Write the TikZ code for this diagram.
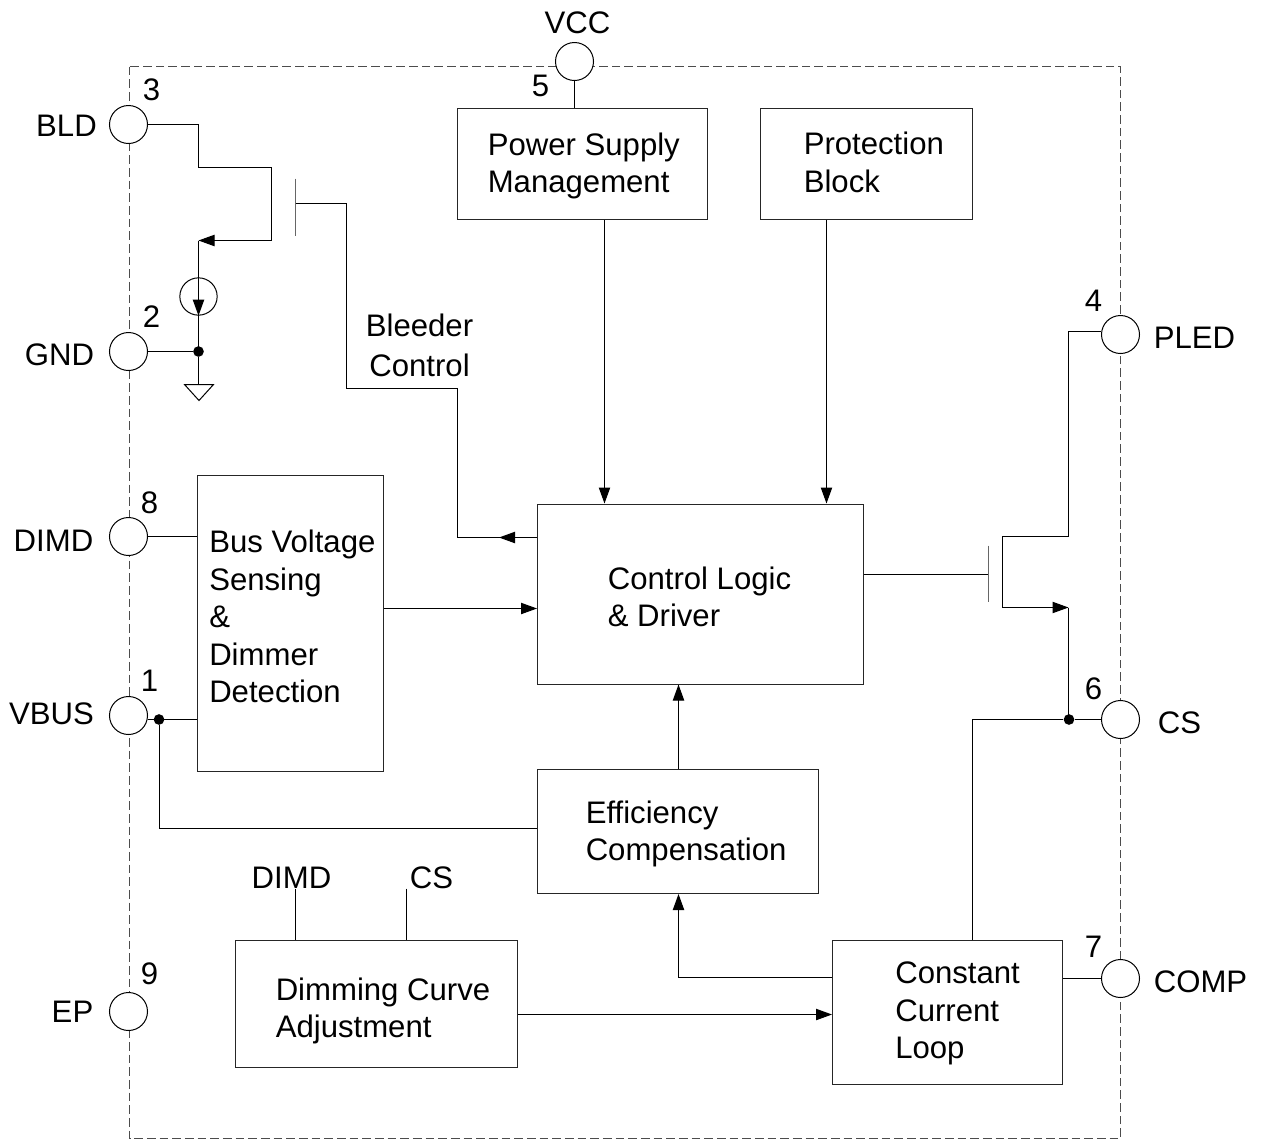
\documentclass[tikz,border=0pt]{standalone}
\usepackage{fontspec}
\setmainfont{Liberation Sans}
\usetikzlibrary{arrows.meta}
\tikzset{
  blockbox/.style={draw=black!85,line width=0.75pt,minimum width=#1,inner sep=0pt,anchor=north west},
  pin/.style={circle,draw=black,fill=white,line width=0.75pt,minimum size=28.5pt,inner sep=0pt},
  txt/.style={inner sep=0pt,align=left,anchor=west,font=\fontsize{23.35}{28.1}\selectfont},
  ctxt/.style={inner sep=0pt,align=center,anchor=center,font=\fontsize{23.35}{28.1}\selectfont},
  wire/.style={draw=black,line width=0.75pt},
  arr/.style={wire,-{Triangle[length=12pt,width=8.5pt]}},
  dot/.style={circle,fill=black,inner sep=0pt,minimum size=8pt},
}
\begin{document}
\begin{tikzpicture}[x=0.75pt,y=-0.75pt]
\useasboundingbox (0.5,0.5) rectangle (1261.5,1140.5);
% package outline
\draw[draw=black!70,line width=0.8pt,dash pattern=on 6.5pt off 3pt] (130,67) rectangle (1121,1139);
% blocks
\node[blockbox=187.5pt,minimum height=83.25pt] (psm) at (457.5,108.5) {};
\node[blockbox=159pt,minimum height=83.25pt] (prot) at (760.5,108.5) {};
\node[blockbox=139.5pt,minimum height=222pt] (bus) at (197.8,475) {};
\node[blockbox=244.5pt,minimum height=135pt] (ctrl) at (537.5,504) {};
\node[blockbox=210.75pt,minimum height=93pt] (eff) at (537.5,769.5) {};
\node[blockbox=211.5pt,minimum height=95.25pt] (dimc) at (235,940.5) {};
\node[blockbox=172.5pt,minimum height=108pt] (ccl) at (832.5,940.5) {};
% pins
\node[pin] (bld) at (129,125) {};
\node[pin] (gnd) at (129,352) {};
\node[pin] (dimd) at (129,537) {};
\node[pin] (vbus) at (129,716) {};
\node[pin] (ep) at (129,1012) {};
\node[pin] (vcc) at (575,62) {};
\node[pin] (pled) at (1121,335) {};
\node[pin] (cs) at (1121,720) {};
\node[pin] (comp) at (1121,979) {};
% block text
\node[txt] (t1) at (488,166.5) {Power Supply\\Management};
\node[txt] (t2) at (804,163) {Protection\\Block};
\node[txt] (t3) at (209.5,617) {Bus Voltage\\Sensing\\\&\\Dimmer\\Detection};
\node[txt] (t4) at (608,597.5) {Control Logic\\\& Driver};
\node[txt] (t5) at (586,834.5) {Efficiency\\Compensation};
\node[txt] (t6) at (276,1011.5) {Dimming Curve\\Adjustment};
\node[txt] (t7) at (895.5,1014) {Constant\\Current\\Loop};
\node[ctxt] (t8) at (420,345.5) {Bleeder\\[2pt]Control};
% pin labels
\node[ctxt] (l1) at (67,126) {BLD};
\node[ctxt] (l2) at (60,355) {GND};
\node[ctxt] (l3) at (54,541) {DIMD};
\node[ctxt] (l4) at (52,714) {VBUS};
\node[ctxt] (l5) at (73,1012.5) {EP};
\node[ctxt] (l6) at (578,23) {VCC};
\node[ctxt] (l7) at (1195,338) {PLED};
\node[ctxt] (l8) at (1180,723) {CS};
\node[ctxt] (l9) at (1201,982) {COMP};
\node[ctxt] (l10) at (292,878) {DIMD};
\node[ctxt] (l11) at (432,878) {CS};
% pin numbers
\node[ctxt] (n3) at (152,90) {3};
\node[ctxt] (n2) at (152,317) {2};
\node[ctxt] (n8) at (150,503) {8};
\node[ctxt] (n1) at (150,681) {1};
\node[ctxt] (n9) at (150,974) {9};
\node[ctxt] (n5) at (541,86) {5};
\node[ctxt] (n4) at (1094,301) {4};
\node[ctxt] (n6) at (1094,689) {6};
\node[ctxt] (n7) at (1094,947) {7};
% helper coordinates
\coordinate (xa) at (199,0);
\coordinate (xb) at (272,0);
\coordinate (ya) at (0,168);
\coordinate (yb) at (0,241);
\coordinate (gdot) at (199,352);
\coordinate (gt) at (199,385);
\coordinate (gl) at (185,385);
\coordinate (gr) at (214,385);
\coordinate (gb) at (199.5,401);
\coordinate (srcbend) at (199,241);
\coordinate (srcin) at (199,281);
\node[circle,draw=black,fill=none,line width=0.75pt,minimum size=28pt,inner sep=0pt] (src) at (199,297) {};
\coordinate (gate1a) at (296,179);
\coordinate (gate1b) at (296,236);
\coordinate (g1m) at (296,204);
\coordinate (g1r) at (347,204);
\coordinate (g1d) at (347,389);
\coordinate (g1e) at (458,389);
\coordinate (g1f) at (458,538);
\coordinate (g2a) at (989,546);
\coordinate (g2b) at (989,602);
\coordinate (g2m) at (989,575);
\coordinate (chtop) at (1003,537);
\coordinate (chbot) at (1003,608);
\coordinate (drain) at (1069,537);
\coordinate (source) at (1069,608);
\coordinate (pledc) at (1069,332);
\node[dot] (vdot) at (159.5,720) {};
\node[dot] (gnddot) at (199,352) {};
\node[dot] (csdot) at (1069.5,720) {};
% bleeder path
\draw[wire] (bld.east) -- (xa |- bld.east) -- (xa |- ya) -- (xb |- ya) -- (xb |- yb);
\draw[arr] (xb |- yb) -- (srcbend);
\draw[wire] (srcbend) -- (gdot);
\draw[arr] (srcin) -- (xa |- src.south);
\draw[wire] (gnd.east) -- (gnddot.west);
\draw[wire] (gnddot) -- (gt);
\draw[wire,fill=white] (gl) -- (gr) -- (gb) -- cycle;
\draw[draw=black!60,line width=1.1pt] (gate1a) -- (gate1b);
\draw[wire] (g1m) -- (g1r) -- (g1d) -- (g1e) -- (g1f);
\draw[arr] (ctrl.west |- g1f) -- +(-38,0);
\draw[wire] (g1f) -- +(45,0);
% vcc etc
\draw[wire] (vcc.south) -- (vcc.south |- psm.north);
\coordinate (pa) at (605,0);
\coordinate (pb) at (827,0);
\draw[arr] (pa |- psm.south) -- (pa |- ctrl.north);
\draw[arr] (pb |- prot.south) -- (pb |- ctrl.north);
% bus
\draw[wire] (dimd.east) -- (bus.west |- dimd.east);
\draw[wire] (vbus.east |- vdot) -- (vdot.center) -- (bus.west |- vdot);
\coordinate (bm) at (0,609);
\draw[arr] (bus.east |- bm) -- (ctrl.west |- bm);
% vbus to efficiency
\coordinate (vb) at (159.5,829);
\draw[wire] (vdot) -- (vb) -- (eff.west |- vb);
% mosfet
\coordinate (cm) at (0,575);
\draw[wire] (ctrl.east |- cm) -- (g2m);
\draw[draw=black!60,line width=1.1pt] (g2a) -- (g2b);
\draw[wire] (drain) -- (chtop) -- (chbot);
\draw[arr] (chbot) -- (source);
\draw[wire] (pled.west |- pledc) -- (pledc) -- (drain);
\draw[wire] (source) -- (source |- csdot);
\draw[wire] (csdot) -- (cs.west);
% CC loop
\coordinate (xc) at (973,0);
\draw[wire] (xc |- ccl.north) -- (xc |- csdot) -- (csdot);
\coordinate (ef) at (679,0);
\coordinate (yc) at (0,978);
\draw[arr] (ccl.west |- yc) -- (ef |- yc) -- (ef |- eff.south);
\coordinate (ef2) at (679,0);
\draw[arr] (ef2 |- eff.north) -- (ef2 |- ctrl.south);
\draw[wire] (ccl.east |- comp) -- (comp.west);
\coordinate (yd) at (0,1015);
\draw[arr] (dimc.east |- yd) -- (ccl.west |- yd);
% dim curve inputs
\coordinate (xd) at (296,889);
\coordinate (xe) at (407,889);
\draw[wire] (xd) -- (xd |- dimc.north);
\draw[wire] (xe) -- (xe |- dimc.north);
\end{tikzpicture}
\end{document}
